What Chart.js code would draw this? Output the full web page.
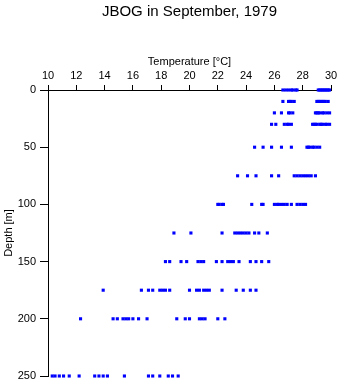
<!DOCTYPE html>
<html><head><meta charset="utf-8">
<script src="https://cdn.jsdelivr.net/npm/chart.js@4/dist/chart.umd.min.js"></script>
<style>html,body{margin:0;padding:0;background:#fff;} canvas{display:block}</style>
</head><body>
<canvas id="c" width="341" height="384"></canvas>
<script>
const depths = [0, 10, 20, 30, 50, 75, 100, 125, 150, 175, 200, 250];
const t0   = [26.6, 26.8, 27.0, 27.2, 27.3, 27.5, 27.6, 29.1, 29.2, 29.3, 29.4, 29.5, 29.6, 29.7, 29.8, 29.9];
const t10  = [26.6, 27.0, 27.1, 27.2, 27.4, 29.0, 29.1, 29.2, 29.3, 29.4, 29.5, 29.6, 29.8];
const t20  = [26.0, 26.5, 27.0, 27.1, 27.3, 28.9, 29.0, 29.1, 29.2, 29.4, 29.5, 29.7, 29.9];
const t30  = [25.8, 26.1, 26.7, 26.9, 27.0, 27.2, 28.7, 28.8, 28.9, 29.0, 29.2, 29.3, 29.4, 29.6, 29.7, 29.9];
const t50  = [24.6, 25.2, 25.8, 26.5, 27.2, 28.3, 28.4, 28.5, 28.7, 28.8, 29.0, 29.2];
const t75  = [23.4, 24.1, 24.7, 25.8, 26.3, 27.4, 27.6, 27.8, 28.0, 28.2, 28.4, 28.6, 28.9];
const t100 = [22.0, 22.1, 22.3, 22.4, 24.4, 25.1, 25.2, 26.0, 26.2, 26.3, 26.5, 26.7, 26.9, 27.2, 27.6, 27.8, 28.0, 28.2];
const t125 = [18.9, 20.1, 22.3, 23.2, 23.4, 23.6, 23.8, 24.0, 24.2, 24.6, 24.9, 25.5];
const t150 = [18.3, 18.6, 19.4, 19.8, 20.6, 20.8, 21.0, 21.9, 22.3, 22.7, 22.9, 23.1, 23.5, 24.3, 24.7, 25.1, 25.6];
const t175 = [13.9, 16.6, 17.1, 17.4, 17.9, 18.1, 18.3, 18.6, 20.0, 20.5, 20.7, 21.0, 21.2, 21.4, 22.3, 23.3, 23.8, 24.3, 24.7];
const t200 = [12.3, 14.6, 14.9, 15.3, 15.5, 15.7, 16.0, 16.4, 17.0, 19.1, 19.7, 20.0, 20.7, 20.9, 21.1, 22.0, 22.5];
const t250 = [10.3, 10.5, 10.8, 11.1, 11.5, 12.2, 13.3, 13.6, 13.9, 14.2, 15.4, 17.1, 17.4, 17.9, 18.5, 18.8, 19.2];
const tempsByDepth = [t0, t10, t20, t30, t50, t75, t100, t125, t150, t175, t200, t250];
const xTicks = [10, 12, 14, 16, 18, 20, 22, 24, 26, 28, 30];
const yTicks = [0, 50, 100, 150, 200, 250];

const points = [];
depths.forEach((d, i) => tempsByDepth[i].forEach(t => points.push({x: t, y: d})));

const font = {family: "'Liberation Sans', Arial, sans-serif", size: 11};
new Chart(document.getElementById('c').getContext('2d'), {
  type: 'scatter',
  data: {datasets: [{
    data: points, pointStyle: 'rect', pointRadius: 2.2, pointHoverRadius: 2.2,
    borderWidth: 0, backgroundColor: '#0000ff', borderColor: '#0000ff', clip: false
  }]},
  options: {
    responsive: false, animation: false, devicePixelRatio: 1,
    layout: {padding: {left: 0, right: 10, top: 0, bottom: 8}},
    plugins: {
      legend: {display: false}, tooltip: {enabled: false},
      title: {display: true, text: 'JBOG in September, 1979', fullSize: false,
        font: {family: "'Liberation Sans', Arial, sans-serif", size: 15, weight: 'normal'},
        color: '#000', padding: {top: 3, bottom: 0}}
    },
    scales: {
      x: {
        type: 'linear', position: 'top', min: 10, max: 30,
        afterBuildTicks: s => { s.ticks = xTicks.map(v => ({value: v})); },
        afterFit: s => { s.height = 69; s.paddingLeft = 0; s.paddingRight = 0; },
        ticks: {font, color: '#000', padding: 2, maxRotation: 0, autoSkip: false},
        grid: {drawOnChartArea: false, drawTicks: true, tickLength: 5, color: '#000'},
        border: {display: true, color: '#000', width: 1},
        title: {display: true, text: 'Temperature [°C]', font, color: '#000', padding: {top: 34, bottom: 0}}
      },
      y: {
        type: 'linear', position: 'left', reverse: true, min: 0, max: 250,
        afterBuildTicks: s => { s.ticks = yTicks.map(v => ({value: v})); },
        afterFit: s => { s.width = 48; s.paddingTop = 0; s.paddingBottom = 0; },
        ticks: {font, color: '#000', padding: 4, autoSkip: false},
        grid: {drawOnChartArea: false, drawTicks: true, tickLength: 8, color: '#000'},
        border: {display: true, color: '#000', width: 1},
        title: {display: true, text: 'Depth [m]', font, color: '#000', padding: {top: 2, bottom: 0}}
      }
    }
  }
});
</script>
</body></html>
